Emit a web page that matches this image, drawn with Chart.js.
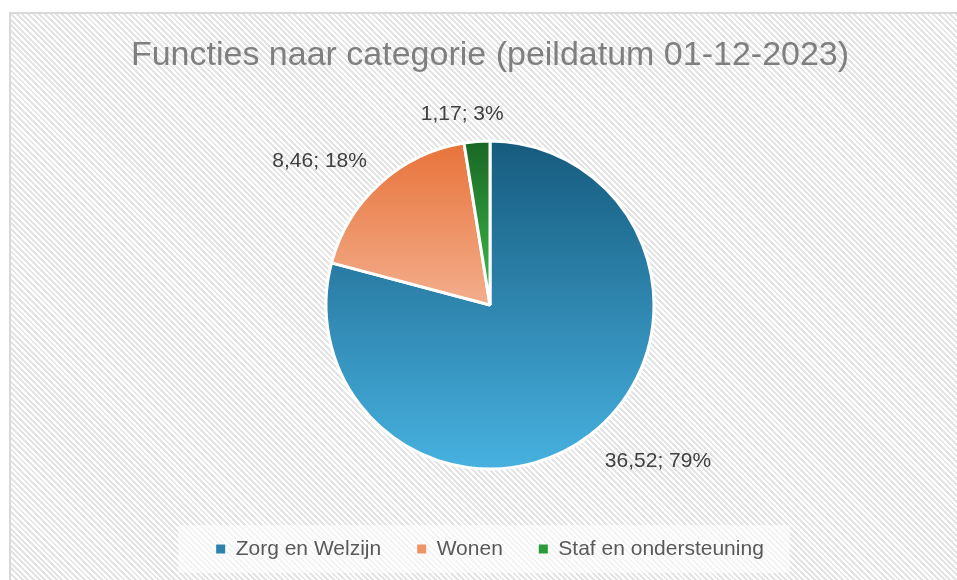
<!DOCTYPE html>
<html><head><meta charset="utf-8">
<script src="https://cdn.jsdelivr.net/npm/chart.js@4.4.1/dist/chart.umd.min.js"></script>
<style>
html,body{margin:0;padding:0;background:#fff;width:957px;height:580px;overflow:hidden}
#frame{position:absolute;left:9px;top:12px;width:1000px;height:700px;border-left:2px solid #d9d9d9;border-top:2px solid #d9d9d9;background:repeating-linear-gradient(45deg,#ffffff 0px,#ffffff 2px,#e4e4e4 2px,#e4e4e4 4px)}
#wrap{position:absolute;left:0;top:0;width:957px;height:580px}
</style></head><body>
<div id="frame"></div>
<div id="wrap"><canvas id="c" width="957" height="580"></canvas></div>
<script>
// ---- data ----
const categories = ['Zorg en Welzijn', 'Wonen', 'Staf en ondersteuning'];
const values = [36.52, 8.46, 1.17];
const titleText = 'Functies naar categorie (peildatum 01-12-2023)';

// ---- styles ----
const gradientStops = [['#165b7e', '#47b1e0'], ['#e8733a', '#f3ae8c'], ['#1a6624', '#3dbf4c']];
const legendColors = ['#2d82ad', '#ef9466', '#2b9a38'];
const baseFont = '"Liberation Sans", Arial, sans-serif';

// layout constants
const W = 957, H = 580;
const PIE_CY = 305, PIE_CX = 490, PIE_R = 164;
const TITLE_SIZE = 34, TITLE_CY = 56;
const LEG_F = 21, LEG_PAD = 36, LEG_CY = 549;
const legendTop = LEG_CY - LEG_PAD - LEG_F / 2;
const legendH = LEG_F + LEG_PAD + 10;
const bottomPad = H - legendTop - legendH;
const chartTop = 2 * PIE_CY - legendTop;
const titlePadTop = TITLE_CY - TITLE_SIZE * 1.2 / 2;
const titlePadBottom = chartTop - titlePadTop - TITLE_SIZE * 1.2;
const leftPad = 2 * PIE_CX - W;

const total = values.reduce((a, b) => a + b, 0);
const fmtVal = v => v.toFixed(2).replace('.', ',');

function arcYRange(arc) {
  const { x, y, startAngle: a0, endAngle: a1, outerRadius: r } = arc;
  const ys = [y, y + Math.sin(a0) * r, y + Math.sin(a1) * r];
  for (let k = -3; k <= 4; k++) {
    const ang = -Math.PI / 2 + k * Math.PI;
    if (ang >= a0 && ang <= a1) ys.push(y + Math.sin(ang) * r);
  }
  return [Math.min(...ys), Math.max(...ys)];
}

const gradientPlugin = {
  id: 'sliceGradient',
  beforeDatasetsDraw(chart) {
    const ctx = chart.ctx;
    chart.getDatasetMeta(0).data.forEach((arc, i) => {
      const [y0, y1] = arcYRange(arc);
      const g = ctx.createLinearGradient(0, y0, 0, y1);
      g.addColorStop(0, gradientStops[i][0]);
      g.addColorStop(1, gradientStops[i][1]);
      arc.options = Object.assign({}, arc.options, { backgroundColor: g });
    });
  }
};

const legendBoxPlugin = {
  id: 'legendBox',
  beforeDraw(chart) {
    const hb = chart.legend && chart.legend.legendHitBoxes;
    if (!hb || !hb.length) return;
    const left = Math.min(...hb.map(h => h.left)) - 38;
    const right = Math.max(...hb.map(h => h.left + h.width)) + 26;
    const cy = hb[0].top + hb[0].height / 2;
    const ctx = chart.ctx;
    ctx.save();
    ctx.fillStyle = 'rgba(255,255,255,0.6)';
    ctx.fillRect(left, cy - 24, right - left, 48);
    ctx.restore();
  }
};

const labelPlugin = {
  id: 'outLabels',
  afterDatasetsDraw(chart) {
    const ctx = chart.ctx;
    ctx.save();
    ctx.font = '21px ' + baseFont;
    ctx.fillStyle = '#404040';
    ctx.textAlign = 'left';
    chart.getDatasetMeta(0).data.forEach((arc, i) => {
      const mid = (arc.startAngle + arc.endAngle) / 2;
      const r = arc.outerRadius + 1.5 + 18;
      const c = Math.cos(mid), s = Math.sin(mid);
      const px = arc.x + c * r, py = arc.y + s * r;
      const text = fmtVal(values[i]) + '; ' + Math.round(values[i] / total * 100) + '%';
      const w = ctx.measureText(text).width;
      const k = Math.max(-1, Math.min(1, c * 4));
      const left = px - w * (1 - k) / 2;
      if (s > 0) { ctx.textBaseline = 'top'; ctx.fillText(text, left + 3, py); }
      else { ctx.textBaseline = 'alphabetic'; ctx.fillText(text, left, py - 2); }
    });
    ctx.restore();
  }
};

new Chart(document.getElementById('c'), {
  type: 'pie',
  data: {
    labels: categories,
    datasets: [{
      data: values,
      backgroundColor: legendColors,
      borderColor: '#ffffff',
      borderWidth: 3,
      radius: PIE_R
    }]
  },
  options: {
    responsive: false,
    animation: false,
    events: [],
    layout: { padding: { left: leftPad, right: 0, top: 0, bottom: bottomPad } },
    plugins: {
      tooltip: { enabled: false },
      title: {
        display: true,
        text: titleText,
        color: '#7f7f7f',
        font: { family: baseFont, size: TITLE_SIZE, weight: 'normal', lineHeight: 1.2 },
        padding: { top: titlePadTop, bottom: titlePadBottom }
      },
      legend: {
        position: 'bottom',
        labels: {
          boxWidth: 9,
          boxHeight: 9,
          padding: LEG_PAD,
          color: '#595959',
          font: { family: baseFont, size: LEG_F, lineHeight: 1 },
          generateLabels() {
            return categories.map((t, i) => ({
              text: t, fillStyle: legendColors[i], strokeStyle: legendColors[i],
              lineWidth: 0, hidden: false, index: i, fontColor: '#595959'
            }));
          }
        }
      }
    }
  },
  plugins: [gradientPlugin, legendBoxPlugin, labelPlugin]
});
</script>
</body></html>
